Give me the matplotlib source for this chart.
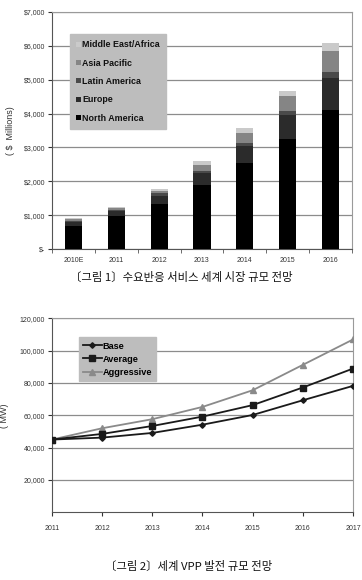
import matplotlib
matplotlib.use("Agg")
import matplotlib.pyplot as plt
import numpy as np
from matplotlib.ticker import FuncFormatter, FixedLocator

plt.rcParams['font.family'] = ['Liberation Sans', 'Noto Sans CJK KR', 'DejaVu Sans']

# ---- Chart 1 data ----
years1 = ['2010E', '2011', '2012', '2013', '2014', '2015', '2016']
north_america = [690, 960, 1335, 1890, 2540, 3250, 4110]
europe = [100, 150, 245, 355, 510, 710, 950]
latin_america = [30, 50, 60, 50, 90, 130, 175]
asia_pacific = [60, 50, 75, 200, 295, 430, 620]
middle_east_africa = [30, 45, 50, 90, 145, 160, 225]
series1 = ['North America', 'Europe', 'Latin America', 'Asia Pacific', 'Middle East/Africa']
colors1 = ['#000000', '#2b2b2b', '#4a4a4a', '#858585', '#cacaca']
yticks1 = [0, 1000, 2000, 3000, 4000, 5000, 6000, 7000]

# ---- Chart 2 data ----
years2 = [2011, 2012, 2013, 2014, 2015, 2016, 2017]
base = [45000, 46200, 49100, 54200, 60200, 69300, 78200]
average = [45000, 48500, 53400, 59200, 66300, 77200, 88900]
aggressive = [45000, 52000, 57600, 65200, 75500, 91200, 106900]
yticks2 = [20000, 40000, 60000, 80000, 100000, 120000]

fig = plt.figure(figsize=(3.62, 5.80), dpi=100)
fig.patch.set_facecolor('white')

tick_fs = 5.0
grid_c = '#8c8c8c'
leg_bg = '#bdbdbd'

# ===== Top chart =====
ax1 = fig.add_axes([0.1436, 0.5707, 0.8287, 0.4086])
x = np.arange(len(years1))
bottom = np.zeros(len(years1))
data1 = [north_america, europe, latin_america, asia_pacific, middle_east_africa]
handles = []
for name, vals, c in zip(series1, data1, colors1):
    b = ax1.bar(x, vals, width=0.4, bottom=bottom, color=c, label=name, zorder=3)
    bottom += np.array(vals)
    handles.append(b)
ax1.set_xlim(-0.5, 6.5)
ax1.set_ylim(0, 7000)
ax1.set_yticks(yticks1)
ax1.yaxis.set_major_formatter(FuncFormatter(lambda v, p: '$-' if v == 0 else '${:,.0f}'.format(v)))
ax1.set_xticks(x)
ax1.set_xticklabels(years1)
ax1.xaxis.set_minor_locator(FixedLocator(np.arange(-0.5, 7.0, 1.0)))
ax1.tick_params(axis='x', which='major', length=0, labelsize=tick_fs, pad=6, colors='#333333')
ax1.tick_params(axis='x', which='minor', length=3, direction='out', color='#555555')
ax1.tick_params(axis='y', length=3, labelsize=tick_fs, colors='#333333', pad=2)
ax1.grid(axis='y', color=grid_c, linewidth=0.9, zorder=0)
for s in ['top', 'right']:
    ax1.spines[s].set_color('#9a9a9a')
for s in ['left', 'bottom']:
    ax1.spines[s].set_color('#555555')
ax1.set_ylabel('( $  Millions)', fontsize=6.5, color='#333333', labelpad=6)
leg1 = ax1.legend(handles[::-1], series1[::-1], loc='upper left', bbox_to_anchor=(0.045, 0.925),
                  frameon=True, fancybox=False, facecolor=leg_bg, edgecolor=leg_bg,
                  framealpha=1, handlelength=0.5, handleheight=0.5, handletextpad=0.2,
                  labelspacing=1.05, borderpad=0.7, prop={'weight': 'bold', 'size': 6.4})
for t in leg1.get_texts():
    t.set_color('#111111')

fig.text(0.5, 1 - 277 / 580, '〔그림 1〕수요반응 서비스 세계 시장 규모 전망', ha='center', va='center',
         fontsize=8.2, family=['Noto Sans CJK KR', 'DejaVu Sans'], color='#111111')

# ===== Bottom chart =====
ax2 = fig.add_axes([0.1436, 0.1167, 0.8315, 0.3345])
ax2.plot(years2, base, color='#1a1a1a', marker='D', markersize=2.8, linewidth=1.3, label='Base', zorder=4)
ax2.plot(years2, average, color='#1a1a1a', marker='s', markersize=4.2, linewidth=1.3, label='Average', zorder=4)
ax2.plot(years2, aggressive, color='#8a8a8a', marker='^', markersize=4.2, linewidth=1.3, label='Aggressive', zorder=3)
ax2.set_xlim(2011, 2017)
ax2.set_ylim(0, 120000)
ax2.set_yticks(yticks2)
ax2.yaxis.set_major_formatter(FuncFormatter(lambda v, p: '{:,.0f}'.format(v)))
ax2.set_xticks(years2)
ax2.tick_params(axis='x', length=3, labelsize=tick_fs, pad=6, colors='#333333')
ax2.tick_params(axis='y', length=3, labelsize=tick_fs, colors='#333333', pad=2)
ax2.grid(axis='y', color=grid_c, linewidth=0.9, zorder=0)
for s in ['top', 'right']:
    ax2.spines[s].set_color('#9a9a9a')
for s in ['left', 'bottom']:
    ax2.spines[s].set_color('#555555')
ax2.set_ylabel('( MW)', fontsize=6.5, color='#333333', labelpad=8)
leg2 = ax2.legend(loc='upper left', bbox_to_anchor=(0.075, 0.925), frameon=True, fancybox=False,
                  facecolor=leg_bg, edgecolor=leg_bg, framealpha=1, handlelength=2.0,
                  handletextpad=0.1, labelspacing=0.45, borderpad=0.45,
                  prop={'weight': 'bold', 'size': 6.6})

fig.text(0.52, 1 - 566 / 580, '〔그림 2〕세계 VPP 발전 규모 전망', ha='center', va='center',
         fontsize=8.2, family=['Noto Sans CJK KR', 'DejaVu Sans'], color='#111111')

fig.savefig('out.png', dpi=100)
